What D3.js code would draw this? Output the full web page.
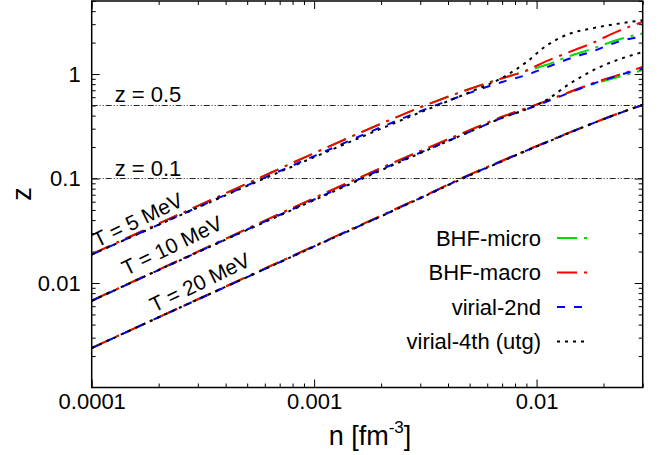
<!DOCTYPE html>
<html>
<head>
<meta charset="utf-8">
<script src="https://cdn.jsdelivr.net/npm/d3@7"></script>
<style>
  body { margin: 0; background: #fff; }
  text { font-family: "Liberation Sans", Arial, sans-serif; fill: #000; }
</style>
</head>
<body>
<div id="chart"></div>
<script>
// --- Data ---
const density = [1e-4, 2e-4, 5e-4, 1e-3, 2e-3, 3e-3, 5e-3, 7e-3, 9e-3, 0.011, 0.014, 0.018, 0.023, 0.03];

const z5Micro  = [0.0189, 0.037, 0.0895, 0.175, 0.335, 0.48, 0.72, 0.91, 1.07, 1.22, 1.48, 1.76, 2.12, 2.45];
const z5Macro  = [0.0189, 0.037, 0.0895, 0.175, 0.335, 0.48, 0.72, 0.91, 1.08, 1.32, 1.62, 2.00, 2.55, 3.15];
const z5Vir2   = [0.0187, 0.0362, 0.086, 0.164, 0.31, 0.44, 0.66, 0.84, 0.98, 1.15, 1.40, 1.66, 2.02, 2.30];
const z5Vir4   = [0.0187, 0.036, 0.085, 0.160, 0.30, 0.43, 0.67, 0.92, 1.30, 1.85, 2.42, 2.75, 3.02, 3.27];

const z10Micro = [0.00678, 0.0134, 0.033, 0.065, 0.126, 0.183, 0.29, 0.39, 0.47, 0.55, 0.67, 0.80, 0.93, 1.09];
const z10Macro = [0.00678, 0.0134, 0.033, 0.065, 0.126, 0.183, 0.29, 0.39, 0.47, 0.55, 0.67, 0.82, 0.97, 1.17];
const z10Vir2  = [0.00675, 0.0133, 0.0325, 0.063, 0.122, 0.177, 0.28, 0.38, 0.46, 0.54, 0.66, 0.81, 0.96, 1.13];
const z10Vir4  = [0.00675, 0.0133, 0.0322, 0.062, 0.120, 0.175, 0.28, 0.38, 0.46, 0.56, 0.80, 1.09, 1.36, 1.62];

const z20Micro = [0.00239, 0.0047, 0.0115, 0.0226, 0.0441, 0.0655, 0.109, 0.148, 0.186, 0.222, 0.275, 0.340, 0.415, 0.506];
const z20Macro = [0.00239, 0.0047, 0.0115, 0.0226, 0.0441, 0.0655, 0.109, 0.148, 0.186, 0.222, 0.275, 0.340, 0.415, 0.506];
const z20Vir2  = [0.00238, 0.0047, 0.0114, 0.0224, 0.0437, 0.0650, 0.108, 0.147, 0.185, 0.221, 0.274, 0.339, 0.414, 0.506];
const z20Vir4  = [0.00238, 0.0047, 0.0114, 0.0223, 0.0435, 0.0647, 0.107, 0.146, 0.184, 0.220, 0.273, 0.339, 0.414, 0.508];

const models = ["BHF-micro", "BHF-macro", "virial-2nd", "virial-4th (utg)"];
const temps = ["T = 5 MeV", "T = 10 MeV", "T = 20 MeV"];
const seriesByTemp = [
  [z5Micro, z5Macro, z5Vir2, z5Vir4],
  [z10Micro, z10Macro, z10Vir2, z10Vir4],
  [z20Micro, z20Macro, z20Vir2, z20Vir4]
];
// where each temperature label starts (n, z)
const tempLabelAt = [[1.06e-4, 0.0218], [1.43e-4, 0.0117], [1.91e-4, 0.0052]];
const refLines = [0.5, 0.1];

const xMajor = [1e-4, 1e-3, 1e-2];
const yMajor = [1, 0.1, 0.01];

// --- Layout ---
const W = 670, H = 455;
const margin = { top: 1, right: 27.3, bottom: 67.5, left: 91.7 };
const width = W - margin.left - margin.right,
      height = H - margin.top - margin.bottom;

const svg = d3.select("#chart").append("svg")
  .attr("width", W)
  .attr("height", H);

const g = svg.append("g")
  .attr("transform", `translate(${margin.left},${margin.top})`);

const x = d3.scaleLog().domain([1e-4, 0.03]).range([0, width]);
const y = d3.scaleLog().domain([0.001, 5]).range([height, 0]);

const color = d3.scaleOrdinal().domain(models).range(["#00dd00", "#ff0000", "#0000ff", "#000000"]);
const dashes = d3.scaleOrdinal().domain(models).range(["20,7,3,7", "20,7,3,7", "8,9", "3,5"]);

// minor ticks
const xMinor = [];
[1e-4, 1e-3, 1e-2].forEach(d => { for (let k = 2; k <= 9; k++) { const v = d * k; if (v <= 0.03 + 1e-9) xMinor.push(v); } });
const yMinor = [];
[1e-3, 1e-2, 1e-1, 1].forEach(d => { for (let k = 2; k <= 9; k++) { const v = d * k; if (v <= 5 + 1e-9) yMinor.push(v); } });

// Axes
const fmt = d => String(+d.toPrecision(1));

g.append("g").attr("transform", `translate(0,${height})`)
  .call(d3.axisBottom(x).tickValues(xMajor).tickFormat(fmt).tickSize(-8).tickPadding(6));
g.append("g").attr("transform", `translate(0,${height})`)
  .call(d3.axisBottom(x).tickValues(xMinor).tickFormat("").tickSize(-4));
g.append("g")
  .call(d3.axisTop(x).tickValues(xMajor).tickFormat("").tickSize(-8));
g.append("g")
  .call(d3.axisTop(x).tickValues(xMinor).tickFormat("").tickSize(-4));

g.append("g")
  .call(d3.axisLeft(y).tickValues(yMajor).tickFormat(fmt).tickSize(-8).tickPadding(11));
g.append("g")
  .call(d3.axisLeft(y).tickValues(yMinor).tickFormat("").tickSize(-4));
g.append("g").attr("transform", `translate(${width},0)`)
  .call(d3.axisRight(y).tickValues(yMajor).tickFormat("").tickSize(-8));
g.append("g").attr("transform", `translate(${width},0)`)
  .call(d3.axisRight(y).tickValues(yMinor).tickFormat("").tickSize(-4));

g.selectAll(".domain").remove();
g.selectAll(".tick line").attr("stroke", "#000").attr("stroke-width", 1);
g.selectAll(".tick text")
  .attr("font-size", "22px")
  .attr("font-family", "Liberation Sans, Arial, sans-serif");

// Reference lines z = 0.5, z = 0.1
refLines.forEach(v => {
  g.append("line")
    .attr("x1", 0).attr("x2", width)
    .attr("y1", y(v)).attr("y2", y(v))
    .attr("stroke", "#222")
    .attr("stroke-width", 1)
    .attr("stroke-dasharray", "6,2,1,2,1,2");
  g.append("text")
    .attr("x", 23)
    .attr("y", y(v) - 3)
    .attr("font-size", "22px")
    .text(`z = ${v}`);
});

// Curves
const line = d3.line()
  .x((d, i) => x(density[i]))
  .y(d => y(d))
  .curve(d3.curveMonotoneX);

seriesByTemp.forEach(set => {
  set.forEach((vals, m) => {
    g.append("path")
      .datum(vals)
      .attr("fill", "none")
      .attr("stroke", color(models[m]))
      .attr("stroke-width", 2)
      .attr("stroke-dasharray", dashes(models[m]))
      .attr("d", line);
  });
});

// Temperature labels
temps.forEach((t, i) => {
  const [n0, z0] = tempLabelAt[i];
  g.append("text")
    .attr("transform", `translate(${x(n0)},${y(z0)}) rotate(-26)`)
    .attr("font-size", "21px")
    .text(t);
});

// Frame
g.append("rect")
  .attr("width", width).attr("height", height)
  .attr("fill", "none")
  .attr("stroke", "#000")
  .attr("stroke-width", 1.5);

// Axis titles
svg.append("text")
  .attr("transform", "translate(31,194) rotate(-90)")
  .attr("text-anchor", "middle")
  .attr("font-size", "27px")
  .text("z");

const xt = svg.append("text")
  .attr("x", 370)
  .attr("y", 445)
  .attr("text-anchor", "middle")
  .attr("font-size", "27px");
xt.append("tspan").text("n [fm");
xt.append("tspan").attr("font-size", "17px").attr("dy", -12).text("-3");
xt.append("tspan").attr("dy", 12).text("]");

// Legend
const legend = g.append("g")
  .attr("transform", `translate(${541 - margin.left},${238 - margin.top})`);

models.forEach((m, i) => {
  const row = legend.append("g").attr("transform", `translate(0,${i * 34.5})`);
  row.append("text")
    .attr("x", 0)
    .attr("y", 0)
    .attr("dy", "0.35em")
    .attr("text-anchor", "end")
    .attr("font-size", "22px")
    .text(m);
  row.append("line")
    .attr("x1", 16).attr("x2", 48)
    .attr("stroke", color(m))
    .attr("stroke-width", 2)
    .attr("stroke-dasharray", dashes(m));
});
</script>
</body>
</html>
